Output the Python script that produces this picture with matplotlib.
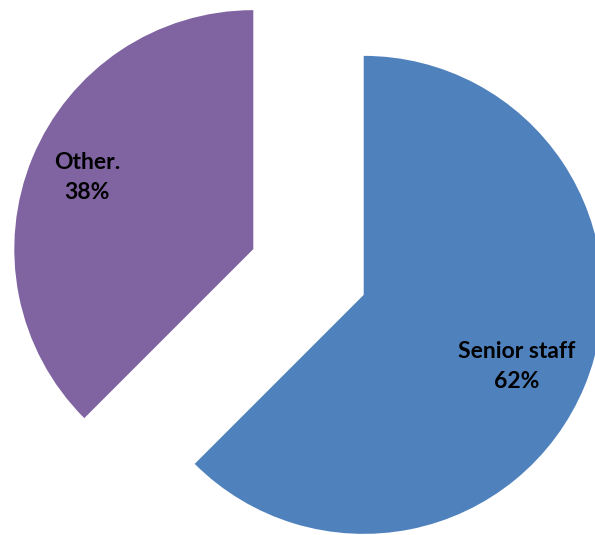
import numpy as np
import matplotlib
matplotlib.use("Agg")
import matplotlib.pyplot as plt

categories = ["Senior staff", "Other."]
values = [62.5, 37.5]
colors = ["#4F81BD", "#8064A2"]
explode = [0.25, 0.25]

W, H = 595, 535
fig = plt.figure(figsize=(W / 100, H / 100), dpi=100)
ax = fig.add_axes([0, 0, 1, 1])
R = 239.0
cx, cy = 308.5, 272.0
wedges, _ = ax.pie(values, colors=colors, startangle=90, counterclock=False,
                   explode=explode, radius=1.0,
                   wedgeprops=dict(linewidth=0))
ax.set_xlim(-cx / R, (W - cx) / R)
ax.set_ylim(-(H - cy) / R, cy / R)
ax.set_aspect("equal")
ax.axis("off")

total = sum(values)
dists = [0.707, 0.757]
offs = [-2.5, -0.9]
for w, cat, v, d, o in zip(wedges, categories, values, dists, offs):
    ang = np.deg2rad((w.theta1 + w.theta2) / 2 + o)
    x = w.center[0] + d * w.r * np.cos(ang)
    y = w.center[1] + d * w.r * np.sin(ang)
    ax.text(x, y, f"{cat}\n{v / total * 100:.0f}%", ha="center", va="center",
            fontsize=16.5, fontweight="bold", family=["Lato", "DejaVu Sans"],
            linespacing=1.55, color="black")

fig.savefig("out.png", dpi=100)
